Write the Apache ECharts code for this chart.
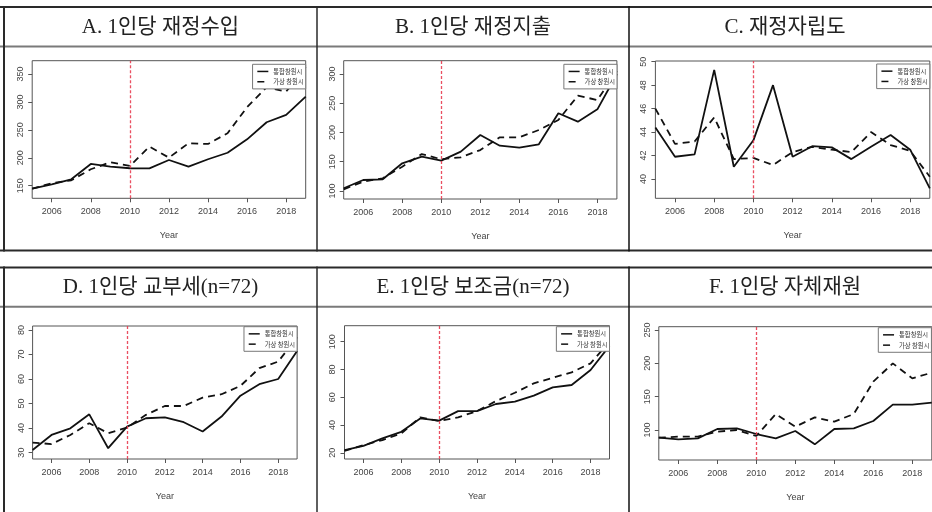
<!DOCTYPE html>
<html><head><meta charset="utf-8">
<script src="https://cdn.jsdelivr.net/npm/echarts@6/dist/echarts.min.js"></script>
<style>html,body{margin:0;padding:0;background:#fff}#c{width:932px;height:512px}</style>
</head><body><div id="c"></div>
<script>
// ---------- data ----------
const years = [2005,2006,2007,2008,2009,2010,2011,2012,2013,2014,2015,2016,2017,2018,2019];
const xTickYears = [2006,2008,2010,2012,2014,2016,2018];
const seriesNames = ['통합창원시', '가상 창원시'];
const panelTitles = ['A. 1인당 재정수입', 'B. 1인당 재정지출', 'C. 재정자립도',
                     'D. 1인당 교부세(n=72)', 'E. 1인당 보조금(n=72)', 'F. 1인당 자체재원'];
const axisName = 'Year';
const treatYear = 2010;

// A. 1인당 재정수입
const revenueActual  = [144.6,152.5,161.5,188.9,184.1,181.2,181,196,184,197.3,209,233,263.6,276.7,309.5];
const revenueSynth   = [144.6,154.3,159.6,179.4,192,185.3,219.9,200.2,226,224.7,243.9,290.5,326.3,318.5,362];
// B. 1인당 재정지출
const spendActual    = [104.6,118.8,120,147.3,158.6,151.8,167.2,195.7,177.4,174,179.8,232.8,218.5,239.6,300];
const spendSynth     = [102.9,115.9,121.7,141.5,163.2,154.2,157.6,170,191.8,191.8,204.2,221.3,262.9,255.5,305];
// C. 재정자립도
const autonomyActual = [44.4,41.9,42.1,49.3,41.05,43.3,48.0,41.9,42.8,42.7,41.7,42.75,43.75,42.5,39.2];
const autonomySynth  = [46.0,43.0,43.2,45.25,41.7,41.8,41.2,42.3,42.75,42.5,42.3,44.0,42.9,42.4,40.2];
// D. 1인당 교부세
const grantActual    = [31.1,37.2,39.9,45.6,31.8,40.6,44.0,44.4,42.4,38.6,44.7,53.2,57.9,60.0,71.4];
const grantSynth     = [34.1,33.5,37.2,42.0,37.9,40.2,45.4,49.0,49.0,52.4,53.8,57.2,64.4,67.1,77];
// E. 1인당 보조금
const subsidyActual  = [21.9,25.0,30.3,35.1,44.7,43.1,50.0,50.0,55.1,56.8,61.1,67.1,68.8,79.6,97];
const subsidySynth   = [21.4,25.5,29.1,33.9,45.5,42.8,45.5,50.0,57.2,63.2,70.0,74.0,77.9,84.4,100];
// F. 1인당 자체재원
const ownActual      = [88.5,86,87.5,101.5,102.5,94,87.5,98.5,78.5,101.5,102.5,113.5,138,138,141];
const ownSynth       = [88.5,90,90,97.5,100,91,124,105,119,112.5,124,172.5,200,177.5,186];

// y tick labels and axis extents per panel
const yTicksA = [150,200,250,300,350];
const yTicksB = [100,150,200,250,300];
const yTicksC = [40,42,44,46,48,50];
const yTicksD = [30,40,50,60,70,80];
const yTicksE = [20,40,60,80,100];
const yTicksF = [100,150,200,250];
const yRangeA = [127.4, 373.8];
const yRangeB = [86.3, 322.7];
const yRangeC = [38.36, 50.06];
const yRangeD = [27.4, 81.6];
const yRangeE = [15.5, 111.5];
const yRangeF = [55, 255];

// ---------- build ----------
const panels = [
  {actual: revenueActual,  synth: revenueSynth,  ticks: yTicksA, range: yRangeA},
  {actual: spendActual,    synth: spendSynth,    ticks: yTicksB, range: yRangeB},
  {actual: autonomyActual, synth: autonomySynth, ticks: yTicksC, range: yRangeC},
  {actual: grantActual,    synth: grantSynth,    ticks: yTicksD, range: yRangeD},
  {actual: subsidyActual,  synth: subsidySynth,  ticks: yTicksE, range: yRangeE},
  {actual: ownActual,      synth: ownSynth,      ticks: yTicksF, range: yRangeF}
];

// layout (positions only)
const gridBoxes = [
  {left: 32.2,  top: 60.7,  width: 273.5, height: 137.6},
  {left: 343.7, top: 60.7,  width: 273.2, height: 138.3},
  {left: 655.4, top: 61,    width: 274.4, height: 137.3},
  {left: 32.6,  top: 326,   width: 264.5, height: 133},
  {left: 344.5, top: 325.7, width: 265,   height: 133.3},
  {left: 658.8, top: 326.7, width: 273,   height: 133.3}
];
const legendPos = [
  {right: 626.3, top: 64.3},
  {right: 315,   top: 64.3},
  {right: 2.2,   top: 64},
  {right: 634.9, top: 326.7},
  {right: 322.5, top: 326.7},
  {left: 878.3,  top: 327.7}
];
const titlePos = [[160.5,27],[473,27],[785,27],[160.5,287.5],[473,287.5],[785,287.5]];

const labelFont = 'Liberation Sans, Arial, sans-serif';
const labelColor = '#444';

const grid = [], xAxis = [], yAxis = [], series = [], legend = [];
const pairs = arr => years.map((y, i) => [y, arr[i]]);

panels.forEach((p, i) => {
  grid.push(Object.assign({show: true, borderColor: '#555', borderWidth: 1, backgroundColor: 'transparent'}, gridBoxes[i]));
  xAxis.push({
    gridIndex: i, type: 'value', min: years[0], max: years[years.length - 1],
    name: axisName, nameLocation: 'middle', nameGap: 33,
    nameTextStyle: {fontFamily: labelFont, fontSize: 9, color: labelColor},
    axisLine: {show: false}, splitLine: {show: false},
    axisTick: {show: true, inside: false, length: 4, customValues: xTickYears, lineStyle: {color: '#555'}},
    axisLabel: {customValues: xTickYears, formatter: v => String(v), fontFamily: labelFont, fontSize: 9, color: labelColor, margin: 9}
  });
  yAxis.push({
    gridIndex: i, type: 'value', min: p.range[0], max: p.range[1],
    axisLine: {show: false}, splitLine: {show: false},
    axisTick: {show: true, inside: false, length: 4, customValues: p.ticks, lineStyle: {color: '#555'}},
    axisLabel: {customValues: p.ticks, formatter: v => String(v), rotate: 90, fontFamily: labelFont, fontSize: 9, color: labelColor, margin: 7}
  });
  series.push({
    name: seriesNames[0], type: 'line', xAxisIndex: i, yAxisIndex: i,
    data: pairs(p.actual), symbol: 'none', z: 3,
    lineStyle: {color: '#111', width: 1.8, type: 'solid'},
    itemStyle: {color: '#111'},
    markLine: {
      silent: true, symbol: ['none', 'none'], label: {show: false},
      lineStyle: {color: 'rgba(232,60,80,0.9)', width: 1.3, type: [3, 2]},
      data: [{xAxis: treatYear}]
    }
  });
  series.push({
    name: seriesNames[1], type: 'line', xAxisIndex: i, yAxisIndex: i,
    data: pairs(p.synth), symbol: 'none', z: 3,
    lineStyle: {color: '#111', width: 1.8, type: [7, 5]},
    itemStyle: {color: '#111'}
  });
  legend.push(Object.assign({
    data: seriesNames, orient: 'vertical', z: 10,
    backgroundColor: '#fff', borderColor: '#777', borderWidth: 1, borderRadius: 0,
    padding: [4, 2, 4, 4], itemGap: 4, itemWidth: 11, itemHeight: 6,
    selectedMode: false,
    itemStyle: {opacity: 0},
    lineStyle: {width: 1.5},
    textStyle: {fontSize: 6.3, color: '#333', fontFamily: 'Noto Sans CJK KR, sans-serif', padding: [0, 0, 0, 0]}
  }, legendPos[i]));
});

// table frame and panel headers
const graphic = [];
const frame = (x1, y1, x2, y2, color, w) => graphic.push({type: 'line', silent: true, z: 20,
  shape: {x1, y1, x2, y2}, style: {stroke: color, lineWidth: w}});
// top table
frame(0, 7, 932, 7, '#2a2a2a', 2);
frame(0, 46.5, 932, 46.5, '#7a7a7a', 2);
frame(0, 250.5, 932, 250.5, '#2a2a2a', 2);
frame(4, 6, 4, 251.5, '#2a2a2a', 2);
frame(317, 6, 317, 251.5, '#2a2a2a', 1.5);
frame(629, 6, 629, 251.5, '#111', 1.5);
// bottom table
frame(0, 267.5, 932, 267.5, '#2a2a2a', 2);
frame(0, 306.8, 932, 306.8, '#7a7a7a', 2);
frame(4, 266.5, 4, 512, '#2a2a2a', 2);
frame(317, 266.5, 317, 512, '#2a2a2a', 1.5);
frame(629, 266.5, 629, 512, '#111', 1.5);

panelTitles.forEach((t, i) => {
  graphic.push({type: 'text', silent: true, z: 20, x: titlePos[i][0], y: titlePos[i][1],
    style: {text: t, fontSize: 21, fontFamily: 'Liberation Serif, Noto Sans CJK KR, serif',
      fill: '#222', align: 'center', verticalAlign: 'middle'}});
});

const chart = echarts.init(document.getElementById('c'), null, {renderer: 'canvas'});
chart.setOption({
  animation: false,
  backgroundColor: '#fff',
  grid, xAxis, yAxis, series, legend, graphic
});
</script>
</body></html>
